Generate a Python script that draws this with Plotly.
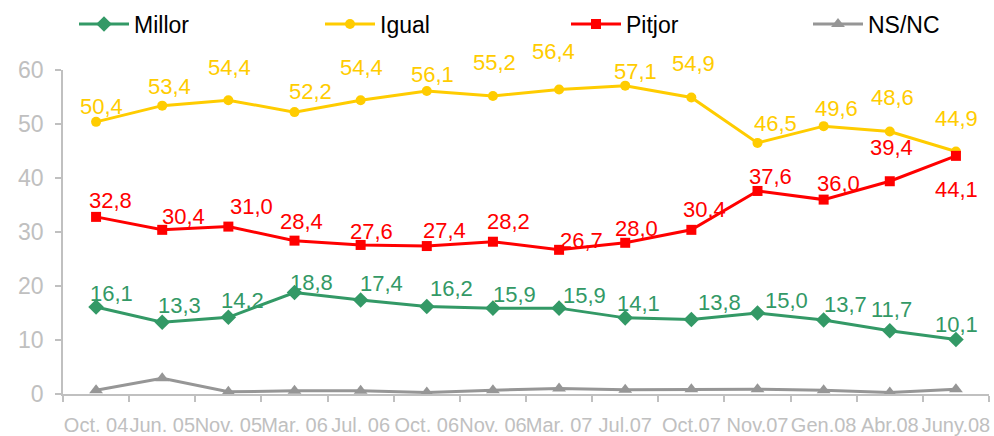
import plotly.graph_objects as go

categories = ["Oct. 04", "Jun. 05", "Nov. 05", "Mar. 06", "Jul. 06", "Oct. 06", "Nov. 06",
              "Mar. 07", "Jul.07", "Oct.07", "Nov.07", "Gen.08", "Abr.08", "Juny.08"]
millor = [16.1, 13.3, 14.2, 18.8, 17.4, 16.2, 15.9, 15.9, 14.1, 13.8, 15.0, 13.7, 11.7, 10.1]
igual = [50.4, 53.4, 54.4, 52.2, 54.4, 56.1, 55.2, 56.4, 57.1, 54.9, 46.5, 49.6, 48.6, 44.9]
pitjor = [32.8, 30.4, 31.0, 28.4, 27.6, 27.4, 28.2, 26.7, 28.0, 30.4, 37.6, 36.0, 39.4, 44.1]
nsnc = [0.7, 2.9, 0.4, 0.6, 0.6, 0.3, 0.7, 1.0, 0.8, 0.9, 0.9, 0.7, 0.3, 0.9]
y_ticks = [0, 10, 20, 30, 40, 50, 60]

# label offsets in pixels (dx, dy upward)
millor_off = [(15, 14), (17, 17), (14, 17), (17, 10), (21, 17), (25, 18), (22, 14),
              (25, 13), (13, 14), (28, 17), (29, 13), (22, 16), (2, 21), (1, 15)]
igual_off = [(5, 15), (7, 19), (1, 33), (16, 21), (1, 33), (6, 17), (2, 33),
             (-6, 38), (10, 14), (2, 34), (18, 19), (13, 18), (3, 34), (1, 33)]
pitjor_off = [(14, 16), (21, 13), (23, 20), (7, 19), (11, 13), (18, 16), (16, 20),
              (22, 9), (11, 14), (13, 20), (13, 14), (15, 16), (2, 34), (1, -34)]

GREEN = "#339966"
YELLOW = "#FFCC00"
RED = "#FF0000"
GREY = "#969696"
AXIS = "#C0C0C0"
FONT = "Liberation Sans, Arial, sans-serif"
W, H = 994, 436

fig = go.Figure()
series = [
    ("Millor", millor, GREEN, "diamond", 12, "legend", 74),
    ("Igual", igual, YELLOW, "circle", 10, "legend2", 320),
    ("Pitjor", pitjor, RED, "square", 10, "legend3", 566),
    ("NS/NC", nsnc, GREY, "triangle-up", 12, "legend4", 808),
]
legends = {}
for name, vals, col, sym, sz, leg, lx in series:
    fig.add_trace(go.Scatter(
        x=categories, y=vals, name=name, mode="lines+markers",
        line=dict(color=col, width=3),
        marker=dict(symbol=sym, size=sz, color=col),
        hoverinfo="skip", legend=leg,
    ))
    legends[leg] = dict(
        orientation="h", xref="container", yref="container",
        x=lx / W, xanchor="left", y=1 - 24 / H, yanchor="middle",
        font=dict(family=FONT, size=23, color="black"),
        itemwidth=50, bgcolor="rgba(0,0,0,0)",
    )

annotations = []
for vals, offs, col in [(millor, millor_off, GREEN), (igual, igual_off, YELLOW), (pitjor, pitjor_off, RED)]:
    for c, v, (dx, dy) in zip(categories, vals, offs):
        annotations.append(dict(
            x=c, y=v, xref="x", yref="y", text=f"{v:.1f}".replace(".", ","),
            showarrow=False, xshift=dx, yshift=dy,
            font=dict(family=FONT, size=22, color=col),
        ))

fig.update_layout(
    width=W, height=H,
    margin=dict(l=63, r=5, t=70, b=42, autoexpand=False),
    paper_bgcolor="white", plot_bgcolor="white",
    font=dict(family=FONT),
    annotations=annotations,
    showlegend=True,
    xaxis=dict(
        type="category", range=[-0.5, len(categories) - 0.5],
        showline=True, linecolor=AXIS, linewidth=1.5,
        ticks="outside", tickson="boundaries", ticklen=6, tickcolor=AXIS, tickwidth=1.5,
        tickangle=0, ticklabelstandoff=12,
        tickfont=dict(family=FONT, size=20, color=AXIS),
        showgrid=False, zeroline=False,
    ),
    yaxis=dict(
        range=[0, 60], tickvals=y_ticks,
        showline=True, linecolor=AXIS, linewidth=1.5,
        ticks="outside", ticklen=6, tickcolor=AXIS, tickwidth=1.5,
        tickfont=dict(family=FONT, size=23, color=AXIS),
        ticklabelstandoff=7,
        showgrid=False, zeroline=False,
    ),
)
fig.update_layout(**legends)

fig.write_html("out.html", config={"displayModeBar": False},
               post_script="document.body.style.margin='0';")
